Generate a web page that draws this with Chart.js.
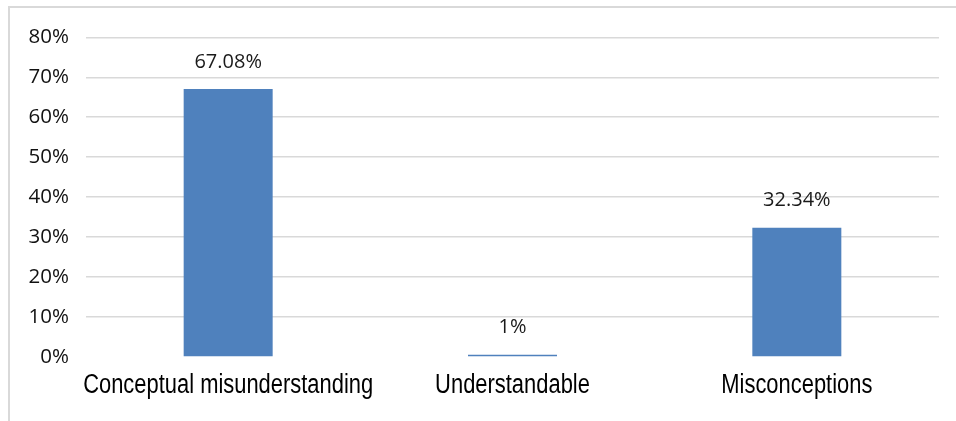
<!DOCTYPE html>
<html>
<head>
<meta charset="utf-8">
<script src="https://cdn.jsdelivr.net/npm/chart.js@4.4.1/dist/chart.umd.min.js"></script>
<style>
    html, body { margin: 0; padding: 0; background: #fff; }
    #frame {
        position: absolute;
        left: 8px;
        top: 6px;
        width: 946px;
        height: 413px;
        border-top: 2px solid #d9d9d9;
        border-left: 2px solid #d9d9d9;
    }
    #chart { display: block; }
</style>
</head>
<body>
<div id="frame"><canvas id="chart" width="946" height="413"></canvas></div>
<script>
// Data
const categories = ['Conceptual misunderstanding', 'Understandable', 'Misconceptions'];
const percentValues = [67.08, 0.58, 32.34];
const valueLabels = ['67.08%', '1%', '32.34%'];
const yTicks = [0, 10, 20, 30, 40, 50, 60, 70, 80];

// Data labels above bars
const barLabels = {
    id: 'barLabels',
    afterDatasetsDraw(chart) {
        const ctx = chart.ctx;
        const meta = chart.getDatasetMeta(0);
        ctx.save();
        ctx.font = '20px "Open Sans", sans-serif';
        ctx.fillStyle = '#1a1a1a';
        ctx.textAlign = 'center';
        ctx.textBaseline = 'middle';
        meta.data.forEach((bar, i) => {
            ctx.fillText(valueLabels[i], bar.x, bar.y - 27);
        });
        ctx.restore();
    }
};

// Category labels in a narrow face (no Arial Narrow installed, so squeeze Liberation Sans)
const narrowCategoryLabels = {
    id: 'narrowCategoryLabels',
    afterDraw(chart) {
        const ctx = chart.ctx;
        const xScale = chart.scales.x;
        const squeeze = 0.812;
        ctx.save();
        ctx.font = '27px "Liberation Sans", Arial, sans-serif';
        ctx.fillStyle = '#000';
        ctx.textAlign = 'center';
        ctx.textBaseline = 'middle';
        categories.forEach((label, i) => {
            const x = xScale.getPixelForTick(i);
            const y = chart.chartArea.bottom + 29;
            ctx.save();
            ctx.translate(x, y);
            ctx.scale(squeeze, 1);
            ctx.fillText(label, 0, 0);
            ctx.restore();
        });
        ctx.restore();
    }
};

const ctx = document.getElementById('chart').getContext('2d');
new Chart(ctx, {
    type: 'bar',
    data: {
        labels: categories,
        datasets: [{
            data: percentValues,
            backgroundColor: '#4F81BD',
            borderWidth: 0,
            categoryPercentage: 1,
            barPercentage: 0.313
        }]
    },
    options: {
        responsive: false,
        animation: false,
        layout: { padding: { top: 29, right: 17, left: 0, bottom: 0 } },
        plugins: {
            legend: { display: false },
            tooltip: { enabled: false }
        },
        scales: {
            x: {
                grid: { display: false },
                border: { display: false },
                ticks: { display: false },
                afterFit(scale) { scale.height = 64; }
            },
            y: {
                min: 0,
                max: 80,
                afterBuildTicks(scale) {
                    scale.ticks = yTicks.map(v => ({ value: v }));
                },
                grid: {
                    color: c => (c.tick && c.tick.value === 0) ? 'rgba(0,0,0,0)' : '#d9d9d9',
                    lineWidth: 1.5,
                    drawTicks: false
                },
                border: { display: false },
                ticks: {
                    color: '#111',
                    padding: 17,
                    font: { family: '"Open Sans", sans-serif', size: 20.5 },
                    callback: v => v + '%'
                },
                afterFit(scale) { scale.width = 76; }
            }
        }
    },
    plugins: [barLabels, narrowCategoryLabels]
});
</script>
</body>
</html>
